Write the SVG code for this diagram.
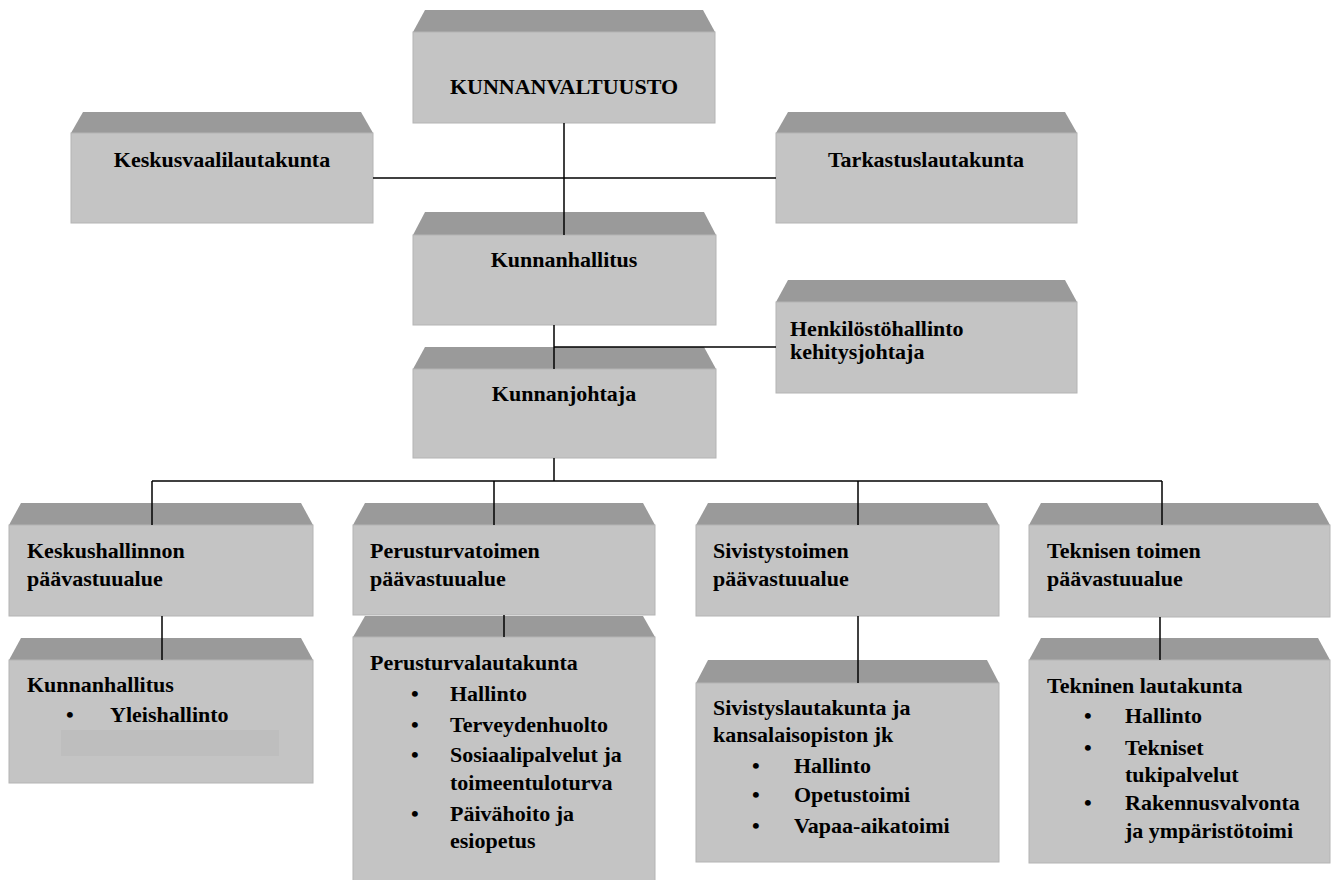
<svg xmlns="http://www.w3.org/2000/svg" width="1334" height="880" viewBox="0 0 1334 880">
<style>
.bev{fill:#9a9a9a}
.face{fill:#c4c4c4;stroke:#b4b4b4;stroke-width:1}
.t{font-family:"Liberation Serif","Times New Roman",serif;font-weight:bold;font-size:22px;fill:#000}
.c{text-anchor:middle}
.ln{stroke:#000;stroke-width:1.5;fill:none}
</style>
<rect width="1334" height="880" fill="#fff"/>
<g id="kunnanvaltuusto">
<polygon class="bev" points="413,32 425,10 703,10 715,32"/>
<rect class="face" x="413" y="32" width="302" height="91"/>
<text class="t c" x="564" y="94">KUNNANVALTUUSTO</text>
</g>
<g id="keskusvaalilautakunta">
<polygon class="bev" points="71,133 83,112 361,112 373,133"/>
<rect class="face" x="71" y="133" width="302" height="90"/>
<text class="t c" x="222" y="167">Keskusvaalilautakunta</text>
</g>
<g id="tarkastuslautakunta">
<polygon class="bev" points="776,133 788,112 1065,112 1077,133"/>
<rect class="face" x="776" y="133" width="301" height="90"/>
<text class="t c" x="926" y="167">Tarkastuslautakunta</text>
</g>
<g id="kunnanhallitus">
<polygon class="bev" points="413,235 425,212 704,212 716,235"/>
<rect class="face" x="413" y="235" width="303" height="90"/>
<text class="t c" x="564" y="267">Kunnanhallitus</text>
</g>
<g id="henkilostohallinto">
<polygon class="bev" points="776,302 788,280 1065,280 1077,302"/>
<rect class="face" x="776" y="302" width="301" height="91"/>
<text class="t" x="790" y="336">Henkilöstöhallinto</text>
<text class="t" x="790" y="359">kehitysjohtaja</text>
</g>
<g id="kunnanjohtaja">
<polygon class="bev" points="413,369 425,347 704,347 716,369"/>
<rect class="face" x="413" y="369" width="303" height="89"/>
<text class="t c" x="564" y="401">Kunnanjohtaja</text>
</g>
<g id="keskushallinnon">
<polygon class="bev" points="9,525 21,503 301,503 313,525"/>
<rect class="face" x="9" y="525" width="304" height="91"/>
<text class="t" x="27" y="558">Keskushallinnon</text>
<text class="t" x="27" y="586">päävastuualue</text>
</g>
<g id="perusturvatoimen">
<polygon class="bev" points="353,525 365,503 643,503 655,525"/>
<rect class="face" x="353" y="525" width="302" height="90"/>
<text class="t" x="370" y="558">Perusturvatoimen</text>
<text class="t" x="370" y="586">päävastuualue</text>
</g>
<g id="sivistystoimen">
<polygon class="bev" points="696,525 708,503 987,503 999,525"/>
<rect class="face" x="696" y="525" width="303" height="91"/>
<text class="t" x="713" y="558">Sivistystoimen</text>
<text class="t" x="713" y="586">päävastuualue</text>
</g>
<g id="teknisen">
<polygon class="bev" points="1029,525 1041,503 1318,503 1330,525"/>
<rect class="face" x="1029" y="525" width="301" height="92"/>
<text class="t" x="1047" y="558">Teknisen toimen</text>
<text class="t" x="1047" y="586">päävastuualue</text>
</g>
<g id="kunnanhallitus-yleis">
<polygon class="bev" points="9,660 21,638 301,638 313,660"/>
<rect class="face" x="9" y="660" width="304" height="123"/>
<rect x="61" y="730" width="218" height="26" fill="#bebebe"/>
<text class="t" x="27" y="692">Kunnanhallitus</text>
<text class="t" x="66" y="722">•</text>
<text class="t" x="110" y="722">Yleishallinto</text>
</g>
<g id="perusturvalautakunta">
<polygon class="bev" points="353,637 365,616 643,616 655,637"/>
<rect class="face" x="353" y="637" width="302" height="250"/>
<text class="t" x="370" y="670">Perusturvalautakunta</text>
<text class="t" x="411" y="701">•</text>
<text class="t" x="450" y="701">Hallinto</text>
<text class="t" x="411" y="732">•</text>
<text class="t" x="450" y="732">Terveydenhuolto</text>
<text class="t" x="411" y="762">•</text>
<text class="t" x="450" y="762">Sosiaalipalvelut ja</text>
<text class="t" x="450" y="790">toimeentuloturva</text>
<text class="t" x="411" y="821">•</text>
<text class="t" x="450" y="821">Päivähoito ja</text>
<text class="t" x="450" y="848">esiopetus</text>
</g>
<g id="sivistyslautakunta">
<polygon class="bev" points="696,683 708,660 987,660 999,683"/>
<rect class="face" x="696" y="683" width="303" height="179"/>
<text class="t" x="713" y="715">Sivistyslautakunta ja</text>
<text class="t" x="713" y="742">kansalaisopiston jk</text>
<text class="t" x="752" y="773">•</text>
<text class="t" x="794" y="773">Hallinto</text>
<text class="t" x="752" y="802">•</text>
<text class="t" x="794" y="802">Opetustoimi</text>
<text class="t" x="752" y="833">•</text>
<text class="t" x="794" y="833">Vapaa-aikatoimi</text>
</g>
<g id="tekninen-lautakunta">
<polygon class="bev" points="1029,660 1041,638 1318,638 1330,660"/>
<rect class="face" x="1029" y="660" width="301" height="203"/>
<text class="t" x="1047" y="693">Tekninen lautakunta</text>
<text class="t" x="1084" y="723">•</text>
<text class="t" x="1125" y="723">Hallinto</text>
<text class="t" x="1084" y="755">•</text>
<text class="t" x="1125" y="755">Tekniset</text>
<text class="t" x="1125" y="782">tukipalvelut</text>
<text class="t" x="1084" y="810">•</text>
<text class="t" x="1125" y="810">Rakennusvalvonta</text>
<text class="t" x="1125" y="838">ja ympäristötoimi</text>
</g>
<g id="connectors">
<path class="ln" d="M564,123V235"/>
<path class="ln" d="M373,178H776"/>
<path class="ln" d="M554,325V369"/>
<path class="ln" d="M554,347H776"/>
<path class="ln" d="M554,458V481"/>
<path class="ln" d="M152,481H1162"/>
<path class="ln" d="M152,481V525"/>
<path class="ln" d="M494,481V525"/>
<path class="ln" d="M858,481V525"/>
<path class="ln" d="M1162,481V525"/>
<path class="ln" d="M162,616V660"/>
<path class="ln" d="M504,615V637"/>
<path class="ln" d="M858,616V683"/>
<path class="ln" d="M1160,617V660"/>
</g>
</svg>
